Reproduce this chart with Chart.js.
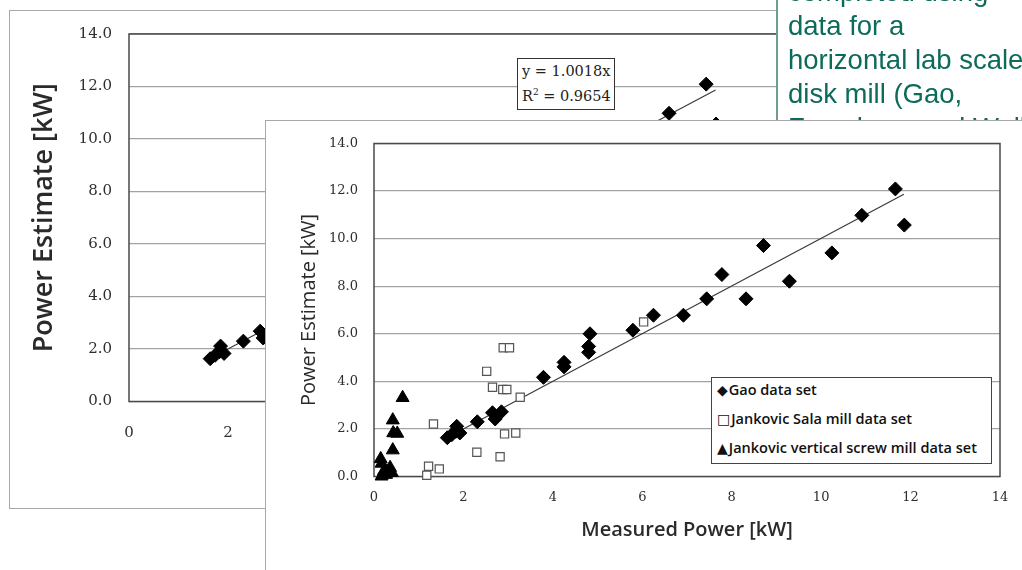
<!DOCTYPE html>
<html>
<head>
<meta charset="utf-8">
<script src="https://cdn.jsdelivr.net/npm/chart.js@4.4.0/dist/chart.umd.min.js"></script>
<style>
  body { margin: 0; width: 1022px; height: 570px; position: relative; overflow: hidden; background: #fff; }
  canvas { position: absolute; left: 0; top: 0; }
  #backPanel { position: absolute; left: 9px; top: 10px; width: 1040px; height: 497px; border: 1.5px solid #a8a8a8; background: #fff; }
  #eqBox { position: absolute; left: 517px; top: 58px; width: 92px; height: 50px; border: 1.5px solid #333; background: #fff;
           font: 14.5px "DejaVu Serif"; color: #222; line-height: 25px; padding-left: 4px; box-sizing: content-box; }
  #eqBox sup { font-size: 9px; line-height: 0; }
  #note { position: absolute; left: 776px; top: -25px; width: 260px; height: 145px; background: #fff; border-left: 2px solid #6f9d93;
          font: 27.5px "Liberation Sans", Arial, sans-serif; color: #0d6b5b; line-height: 34px; padding-left: 10px; white-space: nowrap; }
  #frontPanel { position: absolute; left: 265px; top: 120px; width: 800px; height: 500px; border: 1.5px solid #a8a8a8; background: #fff; }
  #legend { position: absolute; left: 711px; top: 377px; width: 279px; height: 85px; border: 1.5px solid #444; background: #fff;
            font: 600 14.5px "Open Sans", sans-serif; color: #111; }
  #legend div { position: absolute; left: 5px; white-space: nowrap; }
  #legend span { font-family: "DejaVu Sans"; font-size: 14px; margin-right: 1px; }
</style>
</head>
<body>
<div id="backPanel"></div>
<canvas id="backChart" width="1022" height="570"></canvas>
<div id="eqBox">y = 1.0018x<br>R<sup>2</sup> = 0.9654</div>
<div id="note">completed using<br>data for a<br>horizontal lab scale<br>disk mill (Gao,<br>Forssberg and Weller</div>
<div id="frontPanel"></div>
<canvas id="frontChart" width="1022" height="570"></canvas>
<div id="legend">
  <div style="top:2px"><span>◆</span>Gao data set</div>
  <div style="top:31px"><span>□</span>Jankovic Sala mill data set</div>
  <div style="top:60px"><span>▲</span>Jankovic vertical screw mill data set</div>
</div>
<script>
// Gao data set (measured, estimate)
const gaoX = [1.64, 1.74, 1.83, 1.85, 1.92, 2.31, 2.65, 2.71, 2.85, 3.79, 4.25, 4.25, 4.80, 4.80, 4.83, 5.79, 6.25, 6.92, 7.44, 7.78, 8.32, 8.71, 9.29, 10.24, 10.91, 11.66, 11.86];
const gaoY = [1.63, 1.76, 1.90, 2.11, 1.83, 2.30, 2.68, 2.42, 2.72, 4.17, 4.80, 4.61, 5.47, 5.22, 6.00, 6.15, 6.78, 6.78, 7.47, 8.49, 7.47, 9.71, 8.21, 9.40, 10.98, 12.09, 10.57];
// Jankovic Sala mill data set
const salaX = [1.18, 1.22, 1.46, 1.33, 2.30, 2.52, 2.65, 2.82, 2.88, 2.97, 2.89, 3.03, 2.92, 3.17, 3.27, 6.03];
const salaY = [0.05, 0.43, 0.32, 2.21, 1.02, 4.42, 3.75, 0.83, 3.66, 3.66, 5.41, 5.41, 1.79, 1.83, 3.33, 6.50];
// Jankovic vertical screw mill data set
const screwX = [0.64, 0.42, 0.43, 0.52, 0.42, 0.15, 0.17, 0.36, 0.40, 0.17, 0.27, 0.22];
const screwY = [3.31, 2.37, 1.83, 1.81, 1.11, 0.74, 0.55, 0.37, 0.16, 0.01, 0.08, 0.22];
// linear trend (y = 1.0018x) end points as drawn
const trendX = [1.60, 11.85];
const trendY = [1.60, 11.87];

const pts = (xs, ys) => xs.map((x, i) => ({ x: x, y: ys[i] }));

// frame round the plot area, drawn under the markers
const plotFrame = {
    id: 'plotFrame',
    beforeDatasetsDraw(chart) {
        const a = chart.chartArea, ctx = chart.ctx;
        ctx.save();
        ctx.strokeStyle = '#4a4a4a';
        ctx.lineWidth = 1.5;
        ctx.strokeRect(a.left, a.top, a.right - a.left, a.bottom - a.top);
        ctx.restore();
    }
};

function axes(o) {
    return {
        x: {
            type: 'linear', min: 0, max: 14,
            afterFit: s => { s.height = o.xHeight; },
            grid: { display: false, drawTicks: false },
            border: { display: false },
            ticks: { stepSize: 2, padding: o.xPad, color: '#2e2e2e', font: { family: 'DejaVu Serif', size: o.tickSize },
                     callback: v => v.toString() },
            title: o.xTitle
        },
        y: {
            type: 'linear', min: 0, max: 14,
            afterFit: s => { s.width = o.yWidth; },
            grid: { color: '#a3a3a3', lineWidth: 1.2, drawTicks: false },
            border: { display: false },
            ticks: { stepSize: 2, padding: o.yPad, color: '#2e2e2e', font: { family: 'DejaVu Serif', size: o.tickSize },
                     callback: v => v.toFixed(1) },
            title: o.yTitle
        }
    };
}

const diamond = { pointStyle: 'rectRot', pointRadius: 7, backgroundColor: '#000', borderColor: '#000', borderWidth: 1 };
const trendStyle = { showLine: true, pointRadius: 0, borderColor: '#3a3a3a', borderWidth: 1.2, order: 10, clip: false };

// back chart (partly hidden)
new Chart(document.getElementById('backChart'), {
    type: 'scatter',
    data: {
        datasets: [
            Object.assign({ label: 'Gao', data: pts(gaoX, gaoY), clip: false }, diamond),
            Object.assign({ label: 'trend', data: pts(trendX, trendY) }, trendStyle)
        ]
    },
    options: {
        responsive: false, animation: false, devicePixelRatio: 1,
        layout: { padding: { left: 0, top: 34, right: 200, bottom: 0 } },
        plugins: { legend: { display: false }, tooltip: { enabled: false } },
        scales: axes({
            xHeight: 168.5, yWidth: 129, xPad: 23, yPad: 17, tickSize: 15,
            xTitle: { display: false },
            yTitle: { display: true, text: 'Power Estimate [kW]', color: '#2a2a2a',
                      font: { family: 'Open Sans', size: 27, weight: '600', lineHeight: 1 }, padding: { top: 31 } }
        })
    },
    plugins: [plotFrame]
});

// front chart
new Chart(document.getElementById('frontChart'), {
    type: 'scatter',
    data: {
        datasets: [
            Object.assign({ label: 'Gao data set', data: pts(gaoX, gaoY), clip: false }, diamond),
            { label: 'Jankovic Sala mill data set', data: pts(salaX, salaY), clip: false,
              pointStyle: 'rect', pointRadius: 5.8, backgroundColor: '#fff', borderColor: '#555', borderWidth: 1.2 },
            { label: 'Jankovic vertical screw mill data set', data: pts(screwX, screwY), clip: false,
              pointStyle: 'triangle', pointRadius: 7.5, backgroundColor: '#000', borderColor: '#000', borderWidth: 1 },
            Object.assign({ label: 'trend', data: pts(trendX, trendY) }, trendStyle)
        ]
    },
    options: {
        responsive: false, animation: false, devicePixelRatio: 1,
        layout: { padding: { left: 0, top: 143.5, right: 22, bottom: 0 } },
        plugins: { legend: { display: false }, tooltip: { enabled: false } },
        scales: axes({
            xHeight: 93.5, yWidth: 374, xPad: 13, yPad: 16, tickSize: 13,
            xTitle: { display: true, text: 'Measured Power [kW]', color: '#2a2a2a',
                      font: { family: 'Open Sans', size: 20, weight: '600', lineHeight: 1 }, padding: { bottom: 30 } },
            yTitle: { display: true, text: 'Power Estimate [kW]', color: '#2a2a2a',
                      font: { family: 'Open Sans', size: 20, weight: '500', lineHeight: 1 }, padding: { top: 299 } }
        })
    },
    plugins: [plotFrame]
});
</script>
</body>
</html>
